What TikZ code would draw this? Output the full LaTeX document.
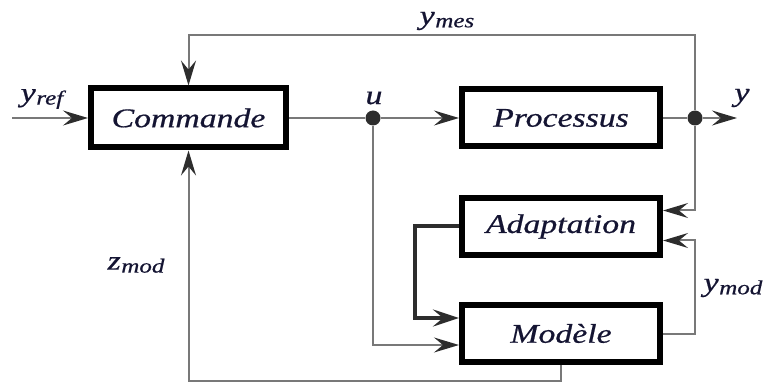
\documentclass[tikz,border=0pt]{standalone}
\usepackage{fontspec}
\setmainfont{Liberation Serif}[ItalicFeatures={FakeBold=0.6}]
\usetikzlibrary{arrows.meta}
\definecolor{ink}{RGB}{20,20,50}
\definecolor{wirecol}{RGB}{120,120,120}
\definecolor{tipcol}{RGB}{45,45,45}
% horizontally widened text, as in the original drawing
\newcommand{\wide}[1]{\scalebox{1.25}[1]{#1}}
% signal name with a lowered subscript
\newcommand{\sig}[2]{\wide{#1\kern0.5pt\raisebox{-3pt}{\fontsize{20}{20}\selectfont #2}}}

\begin{document}
\begin{tikzpicture}[x=1pt,y=-1pt,
  block/.style={draw=black,line width=6pt,minimum width=198pt,minimum height=57pt,
    inner sep=0pt,font=\fontsize{27}{30}\selectfont\itshape,text=ink},
  wire/.style={draw=wirecol,line width=2pt},
  arr/.style={wire,-{Stealth[length=25pt,width=15pt,inset=9pt,color=tipcol]}},
  thickarr/.style={draw=tipcol,line width=4pt,-{Stealth[length=26pt,width=17pt,inset=10pt,color=tipcol]}},
  lbl/.style={font=\fontsize{27}{30}\selectfont\itshape,text=ink,inner sep=0pt},
  junction/.style={circle,fill=tipcol,inner sep=0pt,minimum size=15pt}]
\useasboundingbox (0,0) rectangle (763,382);

% blocks
\node[block,minimum width=195pt,minimum height=59pt] (cmd) at (188.5,118) {\wide{Commande}};
\node[block] (proc) at (561,118) {\wide{Processus}};
\node[block] (adapt) at (561,226.5) {\wide{Adaptation}};
\node[block] (model) at (561,333.5) {\wide{Modèle}};

% branch points and free ends
\node[junction] (ju) at (373,118) {};
\node[junction] (jy) at (695,118) {};
\coordinate (in) at (12,118);
\coordinate (out) at (737,118);
\coordinate (top) at (695,35);

% main chain
\draw[arr] (in) -- (cmd.west);
\draw[wire] (cmd.east) -- (ju);
\draw[arr] (ju) -- (proc.west);
\draw[wire] (proc.east) -- (jy);
\draw[arr] (jy) -- (out);

% measured output back to the controller
\draw[arr] (jy) -- (top) -| (cmd.north);
% measured output to the adaptation block
\draw[arr] (jy) |- ([yshift=16pt]adapt.east);
% model output to the adaptation block
\draw[arr] (model.east) -- ++(32,0) |- ([yshift=-14pt]adapt.east);
% control signal to the model
\draw[arr] (ju) |- ([yshift=-11.5pt]model.west);
% adaptation acts on the model
\draw[thickarr] (adapt.west) -- ++(-44,0) |- ([yshift=15.5pt]model.west);
% model state back to the controller
\draw[arr] (model.south) -- ++(0,16) -| (cmd.south);

% signal labels
\node[lbl] (lref) at (42,99) {\sig{y}{ref}};
\node[lbl] (lmes) at (447,21) {\sig{y}{mes}};
\node[lbl] (lu) at (374,98) {\wide{u}};
\node[lbl] (ly) at (742,98) {\wide{y}};
\node[lbl] (lz) at (136,265) {\sig{z}{mod}};
\node[lbl] (lmod) at (733,288) {\sig{y}{mod}};
\end{tikzpicture}
\end{document}
